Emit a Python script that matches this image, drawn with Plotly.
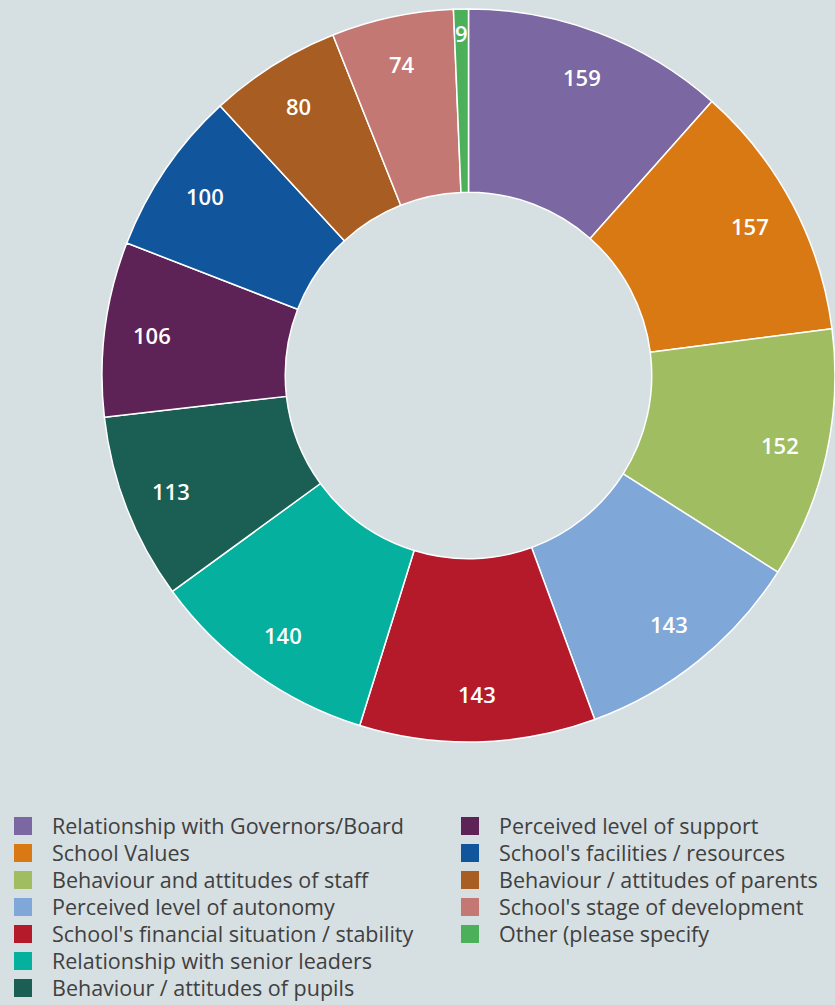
import math
import plotly.graph_objects as go

# Reasons given, in slice order (clockwise from 12 o'clock)
categories = [
    "Relationship with Governors/Board",
    "School Values",
    "Behaviour and attitudes of staff",
    "Perceived level of autonomy",
    "School's financial situation / stability",
    "Relationship with senior leaders",
    "Behaviour / attitudes of pupils",
    "Perceived level of support",
    "School's facilities / resources",
    "Behaviour / attitudes of parents",
    "School's stage of development",
    "Other (please specify",
]
counts = [159, 157, 152, 143, 143, 140, 113, 106, 100, 80, 74, 9]
colors = [
    "#7b67a1", "#d97913", "#a0bd62", "#7fa7d8", "#b41a2a", "#05b09f",
    "#1a5e54", "#5e2356", "#11569c", "#a85d22", "#c47874", "#4cb05b",
]

W, H = 835, 1005
BG = "#d6dfe2"

# Pie placement in pixels
pie_left, pie_top, pie_bottom = 102, 8, 743
dom_x = [pie_left / W, 1.0]
dom_y = [1 - pie_bottom / H, 1 - pie_top / H]
radius = min(W - pie_left, pie_bottom - pie_top) / 2
cx = (pie_left + W) / 2
cy = (pie_top + pie_bottom) / 2

fig = go.Figure()
fig.add_trace(go.Pie(
    labels=categories,
    values=counts,
    marker=dict(colors=colors, line=dict(color="white", width=1.5)),
    hole=0.5,
    sort=False,
    direction="clockwise",
    rotation=0,
    textinfo="none",
    showlegend=False,
    domain=dict(x=dom_x, y=dom_y),
))

# Value labels placed along the outer part of each slice
total = sum(counts)
cum = 0
for v in counts:
    mid = (cum + v / 2) / total * 2 * math.pi
    cum += v
    frac = 0.87 if v / total > 0.02 else 0.935
    px = cx + radius * frac * math.sin(mid)
    py = cy - radius * frac * math.cos(mid)
    fig.add_annotation(
        x=px / W, y=1 - py / H, xref="paper", yref="paper",
        text=str(v), showarrow=False,
        font=dict(family="Open Sans", size=22, color="white", weight=600),
        xanchor="center", yanchor="middle",
    )

# Legend: two columns, one legend box per row for even row spacing
split = 7
row0, row_gap = 826, 27
col_x = [-6, 441]
legend_font = dict(family="Open Sans", size=21.5, color="#404040")
legends = {}
for i, (name, c) in enumerate(zip(categories, colors)):
    col, row = (0, i) if i < split else (1, i - split)
    key = "legend" if i == 0 else f"legend{i + 1}"
    fig.add_trace(go.Scatter(
        x=[None], y=[None], mode="markers", name=name,
        marker=dict(symbol="square", size=16, color=c,
                    line=dict(color=c, width=2)),
        legend=key,
    ))
    legends[key] = dict(
        x=col_x[col] / W, y=1 - (row0 + row * row_gap) / H,
        xanchor="left", yanchor="middle",
        font=legend_font, bgcolor="rgba(0,0,0,0)",
        itemwidth=48, itemclick=False, itemdoubleclick=False,
    )

fig.update_layout(
    width=W, height=H,
    margin=dict(l=0, r=0, t=0, b=0, autoexpand=False),
    paper_bgcolor=BG, plot_bgcolor=BG,
    xaxis=dict(visible=False), yaxis=dict(visible=False),
    **legends,
)

fig.write_html("out.html")
